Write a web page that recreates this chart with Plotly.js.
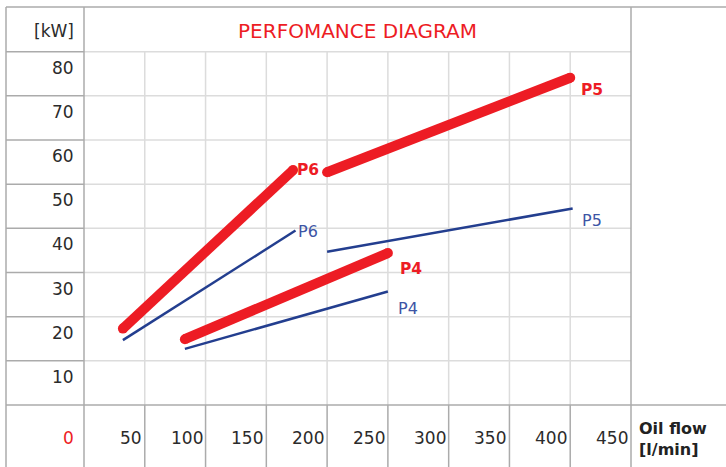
<!DOCTYPE html>
<html>
<head>
<meta charset="utf-8">
<script src="https://cdn.plot.ly/plotly-3.0.1.min.js"></script>
<style>html,body{margin:0;padding:0;background:#fff;}#chart{width:726px;height:467px;}</style>
</head>
<body>
<div id="chart"></div>
<script>
// ---- data ----
const flowTicks = [50, 100, 150, 200, 250, 300, 350, 400, 450];
const powerTicks = [10, 20, 30, 40, 50, 60, 70, 80];
const flowTickLabels = ['50', '100', '150', '200', '250', '300', '350', '400', '450'];
const powerTickLabels = ['10', '20', '30', '40', '50', '60', '70', '80'];

const p6MaxFlow = [32, 172];
const p6MaxPower = [17.3, 53.2];
const p6ContFlow = [32, 174];
const p6ContPower = [14.7, 39.5];
const p5MaxFlow = [200, 400];
const p5MaxPower = [52.7, 74.1];
const p5ContFlow = [200, 402];
const p5ContPower = [34.7, 44.5];
const p4MaxFlow = [83, 250];
const p4MaxPower = [14.9, 34.4];
const p4ContFlow = [83, 250];
const p4ContPower = [12.7, 25.7];

// ---- layout geometry (pixels) ----
const W = 726, H = 467;
const plotL = 84, plotR = 631, plotT = 51.7, plotB = 405;
const xMaxVal = 450, yMaxVal = 80;
const sx = (plotR - plotL) / xMaxVal;
const sy = (plotB - plotT) / yMaxVal;
const pxX = px => (px - plotL) / sx;
const pxY = py => (plotB - py) / sy;
const xmin = pxX(0), xmax = pxX(W), ymin = pxY(H), ymax = pxY(0);
const borderL = pxX(6), borderT = pxY(7);

const RED = '#ed1c24', BLUE = '#233e8f', BLUE_TXT = '#3d55a5';
const LIGHT = '#dcdcdc', DARK = '#ababab';
const FONT = 'DejaVu Sans, sans-serif';

function line(x0, y0, x1, y1, color, w) {
  return {type: 'line', xref: 'x', yref: 'y', x0, y0, x1, y1, layer: 'below',
          line: {color, width: w}};
}
const shapes = [];
flowTicks.filter(v => v < xMaxVal).forEach(v => shapes.push(line(v, 0, v, yMaxVal, LIGHT, 1.5)));
powerTicks.forEach(v => shapes.push(line(0, v, xMaxVal, v, LIGHT, 1.5)));
powerTicks.forEach(v => shapes.push(line(borderL, v, 0, v, DARK, 1.5)));
flowTicks.filter(v => v < xMaxVal).forEach(v => shapes.push(line(v, ymin, v, 0, DARK, 1.5)));
shapes.push(line(0, ymin, 0, borderT, DARK, 1.5));
shapes.push(line(xMaxVal, ymin, xMaxVal, borderT, DARK, 1.5));
shapes.push(line(borderL, ymin, borderL, borderT, DARK, 1.5));
shapes.push(line(borderL, borderT, xmax, borderT, DARK, 1.5));
shapes.push(line(borderL, 0, xmax, 0, DARK, 1.5));

function maxTrace(x, y) {
  return {x, y, type: 'scatter', mode: 'lines+markers', cliponaxis: false,
          line: {color: RED, width: 10}, marker: {color: RED, size: 10}, hoverinfo: 'skip', showlegend: false};
}
function contTrace(x, y) {
  return {x, y, type: 'scatter', mode: 'lines', cliponaxis: false,
          line: {color: BLUE, width: 2.5}, hoverinfo: 'skip', showlegend: false};
}
const traces = [
  maxTrace(p6MaxFlow, p6MaxPower), contTrace(p6ContFlow, p6ContPower),
  maxTrace(p5MaxFlow, p5MaxPower), contTrace(p5ContFlow, p5ContPower),
  maxTrace(p4MaxFlow, p4MaxPower), contTrace(p4ContFlow, p4ContPower)
];

const annotations = [];
// y tick labels
powerTicks.forEach((v, i) => annotations.push({
  x: pxX(76), y: v, xref: 'x', yref: 'y', text: powerTickLabels[i], showarrow: false,
  xanchor: 'right', yanchor: 'middle', yshift: -16, font: {family: FONT, size: 17, color: '#2b2b2b'}
}));
annotations.push({x: pxX(76), y: 0, xref: 'x', yref: 'y', text: '0', showarrow: false,
  xanchor: 'right', yanchor: 'middle', yshift: -33, font: {family: FONT, size: 17, color: RED}});
// x tick labels
flowTicks.forEach((v, i) => annotations.push({
  x: v, y: 0, xref: 'x', yref: 'y', text: flowTickLabels[i], showarrow: false,
  xanchor: 'right', yanchor: 'middle', xshift: -1, yshift: -33, font: {family: FONT, size: 17, color: '#2b2b2b'}
}));
annotations.push({x: pxX(76), y: pxY(31), xref: 'x', yref: 'y', text: '[kW]', showarrow: false,
  xanchor: 'right', yanchor: 'middle', font: {family: FONT, size: 17, color: '#2b2b2b'}});
annotations.push({x: xMaxVal, y: 0, xref: 'x', yref: 'y', text: 'Oil flow<br>[l/min]', showarrow: false,
  xanchor: 'left', yanchor: 'middle', align: 'left', xshift: 6, yshift: -34,
  font: {family: FONT, size: 16, color: '#222', weight: 'bold'}});
// series labels
function lbl(xs, ys, text, color, bold, dx, dy) {
  annotations.push({x: xs[xs.length - 1], y: ys[ys.length - 1], xref: 'x', yref: 'y', text,
    showarrow: false, xanchor: 'left', yanchor: 'middle', xshift: dx, yshift: dy,
    font: {family: FONT, size: bold ? 15.5 : 16, color, weight: bold ? 'bold' : 'normal'}});
}
lbl(p6MaxFlow, p6MaxPower, 'P6', RED, true, 2, 0);
lbl(p6ContFlow, p6ContPower, 'P6', BLUE_TXT, false, 0, -1);
lbl(p5MaxFlow, p5MaxPower, 'P5', RED, true, 9, -12);
lbl(p5ContFlow, p5ContPower, 'P5', BLUE_TXT, false, 7, -12);
lbl(p4MaxFlow, p4MaxPower, 'P4', RED, true, 10, -16);
lbl(p4ContFlow, p4ContPower, 'P4', BLUE_TXT, false, 8, -17);

const layout = {
  width: W, height: H,
  margin: {l: 0, r: 0, t: 0, b: 0, pad: 0},
  paper_bgcolor: '#fff', plot_bgcolor: '#fff',
  title: {text: 'PERFOMANCE DIAGRAM', x: ((plotL + plotR) / 2) / W, xanchor: 'center',
          y: 1 - 31 / H, yanchor: 'middle', xref: 'paper', yref: 'paper',
          font: {family: FONT, size: 20, color: RED}},
  xaxis: {range: [xmin, xmax], showgrid: false, zeroline: false, showticklabels: false, showline: false, fixedrange: true},
  yaxis: {range: [ymin, ymax], showgrid: false, zeroline: false, showticklabels: false, showline: false, fixedrange: true},
  shapes, annotations, showlegend: false
};
Plotly.newPlot('chart', traces, layout, {displayModeBar: false, staticPlot: true});
</script>
</body>
</html>
